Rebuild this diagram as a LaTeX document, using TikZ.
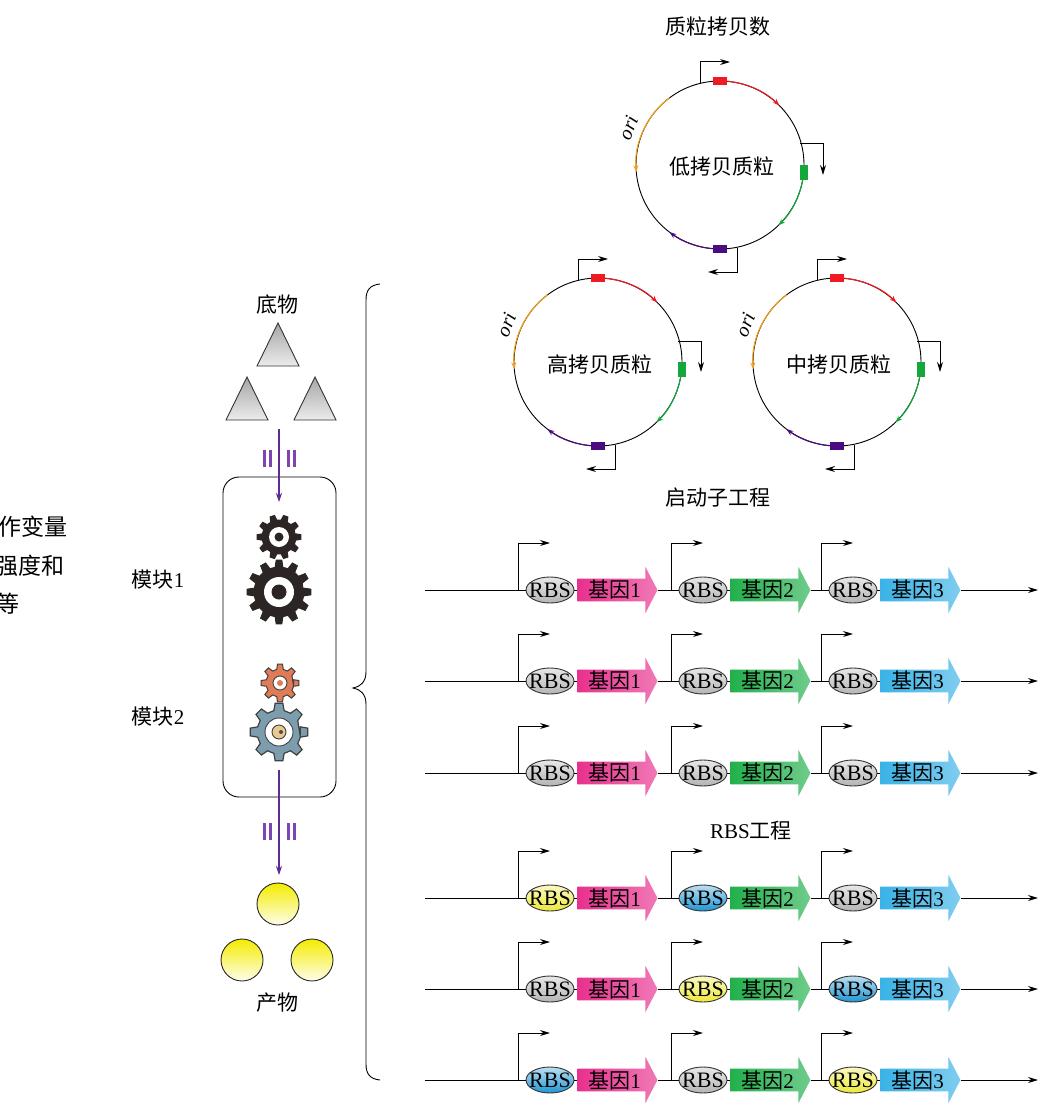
\documentclass[tikz,border=0pt]{standalone}
\usepackage{fontspec}
\setmainfont{Liberation Serif}
\newfontfamily\cjk{Noto Sans CJK SC}
\usetikzlibrary{arrows.meta,shapes.geometric,shapes.arrows}

\definecolor{flowpurple}{HTML}{5E2A94}
\definecolor{barpurple}{HTML}{7E44B4}
\definecolor{plasred}{HTML}{F01A24}
\definecolor{plasgreen}{HTML}{14A83C}
\definecolor{plaspurple}{HTML}{4A0C7E}
\definecolor{plasorange}{HTML}{F4A21C}
\definecolor{genepink}{HTML}{E8308E}
\definecolor{genegreen}{HTML}{22B04C}
\definecolor{geneblue}{HTML}{3AB2E6}
\definecolor{rbsgray}{HTML}{B4B4B4}
\definecolor{rbsyellow}{HTML}{EDE83A}
\definecolor{rbsblue}{HTML}{1F95D2}
\definecolor{gearblack}{HTML}{2B2523}
\definecolor{gearorange}{HTML}{E07B57}
\definecolor{gearblue}{HTML}{7C9DAE}
\definecolor{gearcore}{HTML}{E9C98F}
\definecolor{ballyellow}{HTML}{F3EC00}

% gear outline: centre, teeth, root radius, tip radius, style
\newcommand{\gear}[5]{%
  \pgfmathsetmacro{\gstep}{360/#2}
  \filldraw[shift={#1},#5] ({-0.3*\gstep}:#3pt)
    \foreach \k in {1,...,#2}{
      -- ({(\k-0.3)*\gstep}:#3pt) -- ({(\k-0.17)*\gstep}:#4pt)
      -- ({(\k+0.17)*\gstep}:#4pt) -- ({(\k+0.3)*\gstep}:#3pt)} -- cycle;
}

\tikzset{
  txt/.style={font=\fontsize{21}{24}\selectfont, inner sep=0pt},
  flow/.style={flowpurple, line width=1.2pt, -{Stealth[length=9pt,width=6pt]}},
  bars/.style={barpurple, line width=3pt},
  prom/.style={line width=1pt, -{Stealth[length=10pt,width=6pt]}},
  arctip/.style={line width=1.1pt, -{Stealth[length=7pt,width=5pt]}},
  oritext/.style={font=\itshape\fontsize{20}{22}\selectfont, inner sep=0pt},
  rbs/.style={ellipse, draw=black!80, minimum width=48pt, minimum height=26pt,
    inner sep=0pt, font=\fontsize{22}{24}\selectfont},
  gene/.style={single arrow, single arrow head extend=11.5pt,
    single arrow tip angle=125, minimum height=80pt, minimum width=46pt,
    inner xsep=2pt, inner ysep=1pt, font=\fontsize{21}{24}\selectfont},
  prodball/.style={circle, draw=black!85, minimum size=42pt, inner sep=0pt,
    top color=ballyellow, bottom color=ballyellow!8},
}

\begin{document}
\begin{tikzpicture}[x=1pt,y=-1pt,line width=0.9pt]
\fill[white] (0,0) rectangle (1040,1107);
\useasboundingbox (0,0) rectangle (1040,1107);

% cut-off side note
\node[txt,font=\fontsize{23}{25}\selectfont,anchor=east] (varA) at (68,527) {\cjk 作变量};
\node[txt,font=\fontsize{23}{25}\selectfont,anchor=east] (varB) at (65,566) {\cjk 强度和};
\node[txt,font=\fontsize{23}{25}\selectfont,anchor=west] (varC) at (-4,604) {\cjk 等};

% substrate
\node[txt] (subst) at (277,305) {\cjk 底物};
\foreach \tx/\ty in {278/323, 247/377, 315/377}
  \shadedraw[top color=gray!70, bottom color=gray!15, draw=black!80]
    (\tx,\ty) -- ++(21,43) -- ++(-42,0) -- cycle;

% pathway modules
\node[draw, rounded corners=16pt, minimum width=113pt, minimum height=320pt] (cell) at (279.5,637) {};
\node[txt] (modA) at (158,580) {{\cjk 模块}1};
\node[txt] (modB) at (158,717) {{\cjk 模块}2};

\gear{(279,537)}{10}{17}{22}{fill=gearblack, draw=gearblack}
\fill[white] (279,537) circle[radius=10pt];
\fill[gearblack] (279,537) circle[radius=4.5pt];
\gear{(279,592)}{12}{25}{32}{fill=gearblack, draw=gearblack}
\fill[white] (279,592) circle[radius=15pt];
\fill[gearblack] (279,592) circle[radius=7.5pt];

\gear{(280,683)}{8}{14}{19}{fill=gearorange, draw=black!75, line width=1pt}
\filldraw[fill=white, draw=black!75] (280,683) circle[radius=7pt];
\fill[gearorange] (280,683) circle[radius=3pt];
\gear{(279,732)}{8}{22}{29}{fill=gearblue, draw=black!75, line width=1.2pt}
\filldraw[fill=white, draw=black!75] (279,732) circle[radius=14pt];
\filldraw[fill=gearcore, draw=black!75] (279,732) circle[radius=7pt];
\fill[black!70] (281,732) circle[radius=2pt];

\coordinate (subOut) at (279,429);
\coordinate (cellIn) at (279,502);
\coordinate (cellOut) at (279,770);
\coordinate (prodIn) at (279,875);
\draw[flow] (subOut) -- (cellIn);
\draw[flow] (cellOut) -- (prodIn);
\foreach \bx in {264.5,270.5,288,294} {
  \draw[bars] (\bx,450) -- (\bx,467);
  \draw[bars] (\bx,823) -- (\bx,840);
}

% product
\node[prodball] (pA) at (278,904) {};
\node[prodball] (pB) at (242,960) {};
\node[prodball] (pC) at (312,960) {};
\node[txt] (prod) at (277,1003) {\cjk 产物};

% brace
\draw (380,284) .. controls (370,285) and (366,290) .. (366,300) -- (366,672)
  .. controls (366,682) and (360,687) .. (353,688)
  .. controls (360,689) and (366,694) .. (366,704) -- (366,1064)
  .. controls (366,1074) and (370,1079) .. (380,1080);

% plasmids
\node[txt] (copyTitle) at (718,27) {\cjk 质粒拷贝数};
\foreach \nm/\cx/\cy/\lab in {low/720/165/低拷贝质粒, high/598/362/高拷贝质粒, mid/837/362/中拷贝质粒} {
  \begin{scope}[shift={(\cx,\cy)}]
    \draw (0,0) circle[radius=84pt];
    \node[txt] (\nm) at (2,2) {\cjk \lab};
    \draw[plasred,arctip] (85:84pt) arc[start angle=85, end angle=45, radius=84pt];
    \draw[plasgreen,arctip] (-10:84pt) arc[start angle=-10, end angle=-46, radius=84pt];
    \draw[plaspurple,arctip] (-95:84pt) arc[start angle=-95, end angle=-127, radius=84pt];
    \draw[plasorange,arctip] (127:84pt) arc[start angle=127, end angle=185, radius=84pt];
    \node[oritext, rotate=68] (\nm-ori) at (158:99pt) {ori};
    \fill[plasred] (-7,-88) rectangle (7,-80);
    \fill[plasgreen] (80,0) rectangle (88,15);
    \fill[plaspurple] (-7,80) rectangle (7,88);
    \draw[prom] (-20,-82) -- (-20,-103) -- (10,-103);
    \draw[prom] (80,-21) -- (103,-21) -- (103,10);
    \draw[prom] (17,83) -- (17,107) -- (-12,107);
  \end{scope}
}

% promoter and RBS rows
\node[txt] (promTitle) at (718,498) {\cjk 启动子工程};
\node[txt] (rbsTitle) at (751,831) {RBS{\cjk 工程}};
\foreach \r/\y/\ca/\cb/\cc in {1/590/rbsgray/rbsgray/rbsgray, 2/681/rbsgray/rbsgray/rbsgray,
    3/773/rbsgray/rbsgray/rbsgray, 4/898/rbsyellow/rbsblue/rbsgray,
    5/989/rbsgray/rbsyellow/rbsblue, 6/1080/rbsblue/rbsgray/rbsyellow} {
  \coordinate (s\r) at (425,\y);
  \coordinate (e\r) at (1038,\y);
  \foreach \u/\dx/\rc/\gc in {1/0/\ca/genepink, 2/153/\cb/genegreen, 3/303/\cc/geneblue} {
    \coordinate (p\r\u) at (518+\dx,\y);
    \node[rbs, top color=\rc!30!white, bottom color=\rc] (b\r\u) at (550+\dx,\y) {\makebox[0pt]{RBS}};
    \node[gene, left color=\gc, right color=\gc!65!white, anchor=tail] (g\r\u) at (577+\dx,\y) {{\cjk 基因}\u};
    \draw[prom] (p\r\u) -- ++(0,-47) -- ++(32,0);
  }
  \draw (s\r) -- (b\r1.west) (b\r1.east) -- (g\r1.tail) (g\r1.tip) -- (b\r2.west)
    (b\r2.east) -- (g\r2.tail) (g\r2.tip) -- (b\r3.west) (b\r3.east) -- (g\r3.tail);
  \draw[prom] (g\r3.tip) -- (e\r);
}
\end{tikzpicture}
\end{document}
